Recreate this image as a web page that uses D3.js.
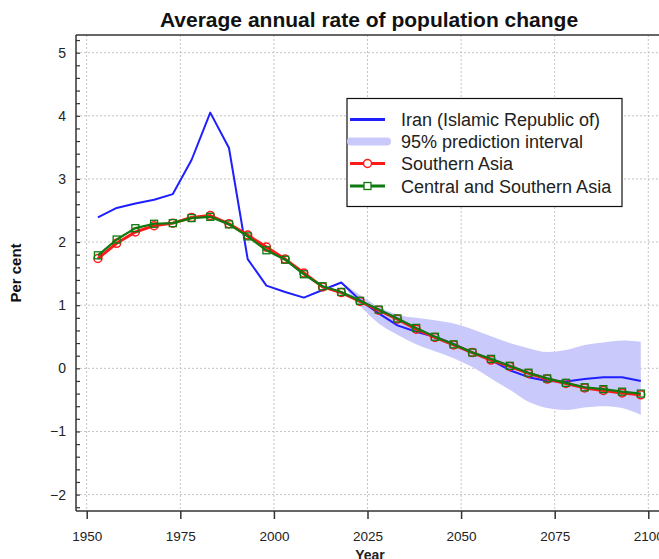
<!DOCTYPE html>
<html><head><meta charset="utf-8">
<script src="https://cdn.jsdelivr.net/npm/d3@7"></script>
<style>
html,body{margin:0;padding:0;background:#fff;overflow:hidden;}
svg{display:block;font-family:"Liberation Sans",Arial,Helvetica,sans-serif;}
</style></head><body>
<svg id="chart" width="659" height="559"></svg>
<script>
const years = [1953,1958,1963,1968,1973,1978,1983,1988,1993,1998,2003,2008,2013,2018,2023,2028,2033,2038,2043,2048,2053,2058,2063,2068,2073,2078,2083,2088,2093,2098];
const iran = [2.39,2.54,2.61,2.67,2.76,3.30,4.05,3.49,1.73,1.31,1.21,1.12,1.24,1.36,1.08,0.87,0.68,0.58,0.50,0.385,0.25,0.13,-0.03,-0.14,-0.20,-0.21,-0.17,-0.14,-0.14,-0.20];
const southernAsia = [1.74,1.98,2.16,2.26,2.30,2.39,2.42,2.29,2.11,1.92,1.73,1.51,1.29,1.20,1.06,0.92,0.78,0.62,0.49,0.37,0.25,0.13,0.03,-0.08,-0.17,-0.24,-0.31,-0.35,-0.39,-0.42];
const centralSouthernAsia = [1.79,2.04,2.22,2.29,2.30,2.38,2.40,2.28,2.09,1.87,1.72,1.49,1.30,1.21,1.07,0.93,0.79,0.64,0.50,0.38,0.25,0.15,0.04,-0.07,-0.16,-0.23,-0.30,-0.33,-0.37,-0.40];
const bandYears = [2018,2023,2028,2033,2038,2043,2048,2053,2058,2063,2068,2073,2078,2083,2088,2093,2098];
const bandUpper = [1.36,1.16,0.97,0.85,0.80,0.76,0.71,0.62,0.51,0.40,0.32,0.26,0.29,0.37,0.41,0.44,0.42];
const bandLower = [1.36,0.99,0.71,0.53,0.38,0.27,0.16,0.02,-0.16,-0.34,-0.53,-0.63,-0.66,-0.62,-0.60,-0.63,-0.74];
const xTicks = [1950,1975,2000,2025,2050,2075,2100];
const yTicks = [-2,-1,0,1,2,3,4,5];
const yMinorTicks = [-2.2,-2.0,-1.8,-1.6,-1.4,-1.2,-1.0,-0.8,-0.6,-0.4,-0.2,0,0.2,0.4,0.6,0.8,1.0,1.2,1.4,1.6,1.8,2.0,2.2,2.4,2.6,2.8,3.0,3.2,3.4,3.6,3.8,4.0,4.2,4.4,4.6,4.8,5.0,5.2];
const legendLabels = ["Iran (Islamic Republic of)","95% prediction interval","Southern Asia","Central and Southern Asia"];

const svg = d3.select("#chart");
const L = 76, T = 35, R = 662, B = 511;
const x = d3.scaleLinear().domain([1947.14, 2103.66]).range([L, R]);
const y = d3.scaleLinear().domain([-2.26, 5.28]).range([B, T]);

const blue = "#1f1fff", red = "#ff1a1a", green = "#0f7a0f", bandCol = "#c9c9fb";

// grid
const grid = svg.append("g");
grid.selectAll(".gx").data(xTicks).join("line")
  .attr("x1", d => x(d)).attr("x2", d => x(d)).attr("y1", T).attr("y2", B)
  .attr("stroke", "#c4c4c4").attr("stroke-dasharray", "2,2").attr("stroke-width", 1);
grid.selectAll(".gy").data(yTicks).join("line")
  .attr("x1", L).attr("x2", R).attr("y1", d => y(d)).attr("y2", d => y(d))
  .attr("stroke", "#c4c4c4").attr("stroke-dasharray", "2,2").attr("stroke-width", 1);

// band
const band = bandYears.map((yr, i) => ({yr, lo: bandLower[i], hi: bandUpper[i]}));
svg.append("path").datum(band)
  .attr("d", d3.area().x(d => x(d.yr)).y0(d => y(d.lo)).y1(d => y(d.hi)).curve(d3.curveMonotoneX))
  .attr("fill", bandCol).attr("stroke", "none");

const line = d3.line().x(d => x(d[0])).y(d => y(d[1]));

// Iran
svg.append("path").datum(years.map((yr, i) => [yr, iran[i]]))
  .attr("d", line).attr("fill", "none").attr("stroke", blue).attr("stroke-width", 2).attr("stroke-linejoin", "round");

// Southern Asia
const sa = years.map((yr, i) => [yr, southernAsia[i]]);
svg.append("path").datum(sa).attr("d", line).attr("fill", "none").attr("stroke", red).attr("stroke-width", 3).attr("stroke-linejoin", "round");
svg.append("g").selectAll("circle").data(sa).join("circle")
  .attr("cx", d => x(d[0])).attr("cy", d => y(d[1])).attr("r", 4)
  .attr("fill", "none").attr("stroke", red).attr("stroke-width", 1.5);

// Central and Southern Asia
const csa = years.map((yr, i) => [yr, centralSouthernAsia[i]]);
svg.append("path").datum(csa).attr("d", line).attr("fill", "none").attr("stroke", green).attr("stroke-width", 2.2).attr("stroke-linejoin", "round");
svg.append("g").selectAll("rect").data(csa).join("rect")
  .attr("x", d => x(d[0]) - 3.5).attr("y", d => y(d[1]) - 3.5).attr("width", 7).attr("height", 7)
  .attr("fill", "none").attr("stroke", green).attr("stroke-width", 1.3);

// axes
svg.append("line").attr("x1", L).attr("x2", R).attr("y1", T).attr("y2", T).attr("stroke", "#333").attr("stroke-width", 1.5);
svg.append("line").attr("x1", L).attr("x2", L).attr("y1", T).attr("y2", B).attr("stroke", "#333").attr("stroke-width", 1.5);
svg.append("line").attr("x1", L).attr("x2", R).attr("y1", B).attr("y2", B).attr("stroke", "#333").attr("stroke-width", 1.5);

const xAxis = svg.append("g").attr("transform", `translate(0,${B})`)
  .call(d3.axisBottom(x).tickValues(xTicks).tickSize(8).tickPadding(12).tickFormat(d3.format("d")));
xAxis.select(".domain").remove();
xAxis.selectAll("line").attr("stroke", "#333").attr("stroke-width", 1.5);
xAxis.selectAll("text").attr("font-size", 13.5).attr("fill", "#222").attr("font-family", "Liberation Sans, Arial, sans-serif");

const yMinor = svg.append("g").attr("transform", `translate(${L},0)`)
  .call(d3.axisRight(y).tickValues(yMinorTicks).tickSize(4).tickFormat(""));
yMinor.select(".domain").remove();
yMinor.selectAll("line").attr("stroke", "#333").attr("stroke-width", 1.2);

const yAxis = svg.append("g").attr("transform", `translate(${L},0)`)
  .call(d3.axisLeft(y).tickValues(yTicks).tickSize(0).tickPadding(10).tickFormat(d3.format("d")));
yAxis.select(".domain").remove();
yAxis.selectAll("text").attr("font-size", 14).attr("fill", "#222").attr("font-family", "Liberation Sans, Arial, sans-serif");

// title and labels
svg.append("text").attr("x", (L + R) / 2).attr("y", 27).attr("text-anchor", "middle")
  .attr("font-size", 21).attr("font-weight", "bold").attr("fill", "#111").text("Average annual rate of population change");
svg.append("text").attr("x", 370).attr("y", 560).attr("text-anchor", "middle")
  .attr("font-size", 14).attr("font-weight", "bold").attr("fill", "#222").text("Year");
svg.append("text").attr("transform", `translate(21,${(T + B) / 2}) rotate(-90)`).attr("text-anchor", "middle")
  .attr("font-size", 15).attr("font-weight", "bold").attr("fill", "#111").text("Per cent");

// legend
const lg = svg.append("g");
lg.append("rect").attr("x", 347).attr("y", 98.5).attr("width", 275).attr("height", 108)
  .attr("fill", "#fff").attr("stroke", "#111").attr("stroke-width", 1.2);
const rows = [119.5, 141.5, 163.5, 186];
lg.append("line").attr("x1", 350).attr("x2", 385).attr("y1", rows[0]).attr("y2", rows[0]).attr("stroke", blue).attr("stroke-width", 3);
lg.append("line").attr("x1", 351).attr("x2", 387).attr("y1", rows[1]).attr("y2", rows[1]).attr("stroke", bandCol).attr("stroke-width", 8).attr("stroke-linecap", "round");
lg.append("line").attr("x1", 350).attr("x2", 385).attr("y1", rows[2]).attr("y2", rows[2]).attr("stroke", red).attr("stroke-width", 3);
lg.append("circle").attr("cx", 367.5).attr("cy", rows[2]).attr("r", 4).attr("fill", "#fff").attr("stroke", red).attr("stroke-width", 1.5);
lg.append("line").attr("x1", 350).attr("x2", 385).attr("y1", rows[3]).attr("y2", rows[3]).attr("stroke", green).attr("stroke-width", 3);
lg.append("rect").attr("x", 364).attr("y", rows[3] - 3.5).attr("width", 7).attr("height", 7).attr("fill", "#fff").attr("stroke", green).attr("stroke-width", 1.3);
lg.selectAll("text.lab").data(legendLabels).join("text")
  .attr("x", 401).attr("y", (d, i) => rows[i] + 6.5).attr("font-size", 18).attr("fill", "#222").text(d => d);
</script>
</body></html>
